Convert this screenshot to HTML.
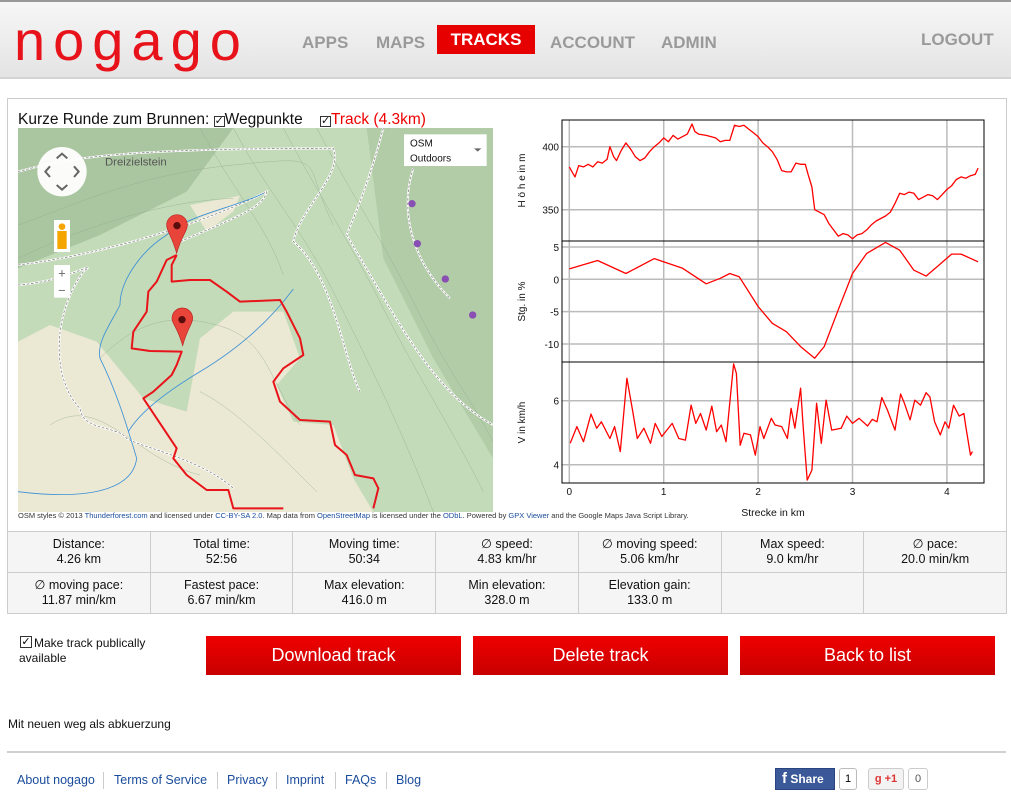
<!DOCTYPE html>
<html><head><meta charset="utf-8">
<style>
*{box-sizing:border-box}
body{margin:0;width:1011px;height:807px;overflow:hidden;background:#fff;font-family:"Liberation Sans",Arial,sans-serif;position:relative}
.abs{position:absolute}
#header{left:0;top:0;width:1011px;height:79px;border-top:2px solid #999;background:linear-gradient(#f6f6f6,#e4e4e4);border-bottom:2px solid #d4d4d4}
.nav{top:31px;font-weight:bold;font-size:17px;color:#9a9a9a}
#main{left:7px;top:98px;width:1000px;height:516px;border:1px solid #ccc}
table.st{border-collapse:collapse;position:absolute;left:7px;top:531px;width:1000px}
table.st td{border:1px solid #ccc;background:#f5f5f5;width:142px;height:41px;text-align:center;font-size:12.5px;line-height:15px;color:#111;padding:0}
.btn{top:636px;width:255px;height:39px;background:linear-gradient(#f00000,#c80000);color:#fff;font-size:18px;text-align:center;line-height:39px}
.fl{top:773px;font-size:12.5px;color:#1a4c9c}
.sep{top:772px;width:1px;height:17px;background:#ccc}
</style></head><body>
<div id="header" class="abs">
  <div class="abs" style="left:14px;top:12px;font-size:56px;color:#e8121a;letter-spacing:8px;line-height:54px">nogago</div>
  <div class="abs nav" style="left:302px">APPS</div>
  <div class="abs nav" style="left:376px">MAPS</div>
  <div class="abs" style="left:437px;top:23px;width:98px;height:29px;background:#e60000;color:#fff;font-weight:bold;font-size:17px;text-align:center;line-height:30px">TRACKS</div>
  <div class="abs nav" style="left:550px">ACCOUNT</div>
  <div class="abs nav" style="left:661px">ADMIN</div>
  <div class="abs nav" style="left:921px;top:28px">LOGOUT</div>
</div>
<div id="main" class="abs"></div>
<div class="abs" style="left:18px;top:111px;font-size:15.5px;color:#111">Kurze Runde zum Brunnen: <span style="display:inline-block;width:11px;height:11px;border:1px solid #333;font-size:11px;line-height:9px">✓</span>Wegpunkte &nbsp;&nbsp;&nbsp;<span style="display:inline-block;width:11px;height:11px;border:1px solid #333;font-size:11px;line-height:9px">✓</span><span style="color:#e00">Track (4.3km)</span></div>

<svg class="abs" style="left:0;top:125px" width="500" height="400" viewBox="0 0 1500 1200">
<defs><clipPath id="mc"><rect x="54" y="9" width="1425" height="1152"/></clipPath></defs>
<g clip-path="url(#mc)">
<rect x="54" y="9" width="1425" height="1152" fill="#c4dbb9"/>
<path d="M54 9H700L560 200 300 330 54 430Z" fill="#aac6a0"/>
<path d="M1100 9H1479V1000L1300 700 1150 400Z" fill="#b1cca7"/>
<path d="M54 650L150 600 290 650 430 820 560 860 600 640 700 560 850 560 900 700 830 780 880 890 1000 900 1060 1060 1120 1161H54Z" fill="#ebe8d3"/>
<path d="M570 240L720 212 700 260 620 320Z" fill="#ebe8d3"/>
<g fill="none" stroke="#8fa88b" stroke-width="1.5" opacity="0.7">
<path d="M54 300C200 250 400 150 700 120S900 100 1000 300"/>
<path d="M54 400C200 330 450 230 700 220"/>
<path d="M300 700C400 600 500 560 650 600S800 750 900 900"/>
<path d="M700 9C800 200 900 300 1000 500S1200 900 1300 1161"/>
<path d="M850 9C950 200 1050 350 1150 550S1350 900 1450 1100"/>
<path d="M950 9C1050 200 1150 350 1250 550S1400 800 1479 950"/>
<path d="M600 9C700 200 800 300 850 450"/>
<path d="M150 900C300 800 400 1000 600 1050"/>
<path d="M600 800C700 850 800 950 950 1100"/>
</g>
<g fill="none" stroke="#fff" stroke-width="6"><path d="M54 140C200 100 350 70 1000 70 1030 150 900 250 880 350 1000 450 1030 700 1080 800 1090 970 1000 980"/>
<path d="M1150 9C1100 200 1050 300 1040 330 1200 600 1300 800 1479 900"/>
<path d="M1240 130C1200 250 1230 400 1350 520 1420 580 1479 600"/>
<path d="M54 420C300 390 600 300 800 200 790 250 700 280 540 350"/>
<path d="M54 480C200 470 300 400 250 440 150 580 160 770 240 850 250 920 350 900 380 940 430 970 600 1000 700 1090 900 1080 1100 1070"/></g>
<g fill="none" stroke="#777" stroke-width="2" stroke-dasharray="8 5"><path d="M54 140C200 100 350 70 1000 70 1030 150 900 250 880 350 1000 450 1030 700 1080 800 1090 970 1000 980"/>
<path d="M1150 9C1100 200 1050 300 1040 330 1200 600 1300 800 1479 900"/>
<path d="M1240 130C1200 250 1230 400 1350 520 1420 580 1479 600"/>
<path d="M54 420C300 390 600 300 800 200 790 250 700 280 540 350"/>
<path d="M54 480C200 470 300 400 250 440 150 580 160 770 240 850 250 920 350 900 380 940 430 970 600 1000 700 1090 900 1080 1100 1070"/></g>
<g fill="none" stroke="#3a8fd8" stroke-width="2.5"><path d="M790 205C700 250 560 270 500 330 420 380 360 470 360 540 330 600 290 650 300 700 350 800 380 900 410 1000 400 1080 300 1130 54 1100"/><path d="M880 492C800 600 700 680 600 740 500 800 420 860 385 920"/></g>
<g fill="#8a4fb3"><circle cx="1236" cy="236" r="11"/><circle cx="1252" cy="356" r="11"/><circle cx="1336" cy="462" r="11"/><circle cx="1418" cy="570" r="11"/></g>
<text x="315" y="122" font-size="34" fill="#555" font-family="Liberation Sans,sans-serif">Dreizielstein</text>
<g fill="none" stroke="#e8141a" stroke-width="6" stroke-linejoin="round">
<path d="M530 390L500 405 470 470 445 500 440 560 400 620 395 670 450 678 545 680 530 720 515 750 460 800 430 820 470 880 530 970 520 1000 560 1050 620 1095 685 1095 700 1150 850 1150"/>
<path d="M530 390L515 420 515 470 570 465 630 465 680 500 720 530 840 525 860 560 900 640 910 690 850 730 820 770 840 830 900 885 990 890 1005 960 1040 990 1065 1050 1120 1060 1135 1090 1120 1150"/></g>
<g><path d="M530 385C515 330 500 320 500 300A31 31 0 0 1 562 300C562 320 545 330 530 385Z" fill="#e8443a" stroke="#b22" stroke-width="2"/><circle cx="531" cy="302" r="11" fill="#5a0d0d"/>
<path d="M548 662C533 607 516 597 516 580A31 31 0 0 1 578 580C578 597 563 607 548 662Z" fill="#e8443a" stroke="#b22" stroke-width="2"/><circle cx="546" cy="584" r="11" fill="#5a0d0d"/></g>
</g>
<circle cx="186" cy="140" r="74" fill="#fff" opacity="0.95"/>
<g fill="none" stroke="#666" stroke-width="6"><path d="M170 100L186 86 202 100M170 180L186 194 202 180M150 124L136 140 150 156M222 124L236 140 222 156"/></g>
<rect x="162" y="285" width="48" height="96" fill="#fff"/><circle cx="186" cy="305" r="10" fill="#f5a500"/><rect x="172" y="318" width="28" height="54" fill="#f5a500"/>
<rect x="162" y="420" width="48" height="98" fill="#fff"/><text x="186" y="458" font-size="38" text-anchor="middle" fill="#666">+</text><text x="186" y="508" font-size="38" text-anchor="middle" fill="#666">−</text>
<rect x="1212" y="28" width="248" height="95" fill="#fff"/><text x="1230" y="64" font-size="30" fill="#111">OSM</text><text x="1230" y="110" font-size="30" fill="#111">Outdoors</text><path d="M1422 70h22l-11 10z" fill="#666"/>
</svg>
<div class="abs" style="left:18px;top:511px;font-size:7.5px;color:#333;white-space:nowrap">OSM styles © 2013 <span style="color:#1a4c9c">Thunderforest.com</span> and licensed under <span style="color:#1a4c9c">CC-BY-SA 2.0</span>. Map data from <span style="color:#1a4c9c">OpenStreetMap</span> is licensed under the <span style="color:#1a4c9c">ODbL</span>. Powered by <span style="color:#1a4c9c">GPX Viewer</span> and the Google Maps Java Script Library.</div>

<svg id="chart" class="abs" style="left:0;top:0" width="1011" height="530"></svg>

<table class="st">
<tr><td>Distance:<br>4.26 km</td><td>Total time:<br>52:56</td><td>Moving time:<br>50:34</td><td>∅ speed:<br>4.83 km/hr</td><td>∅ moving speed:<br>5.06 km/hr</td><td>Max speed:<br>9.0 km/hr</td><td>∅ pace:<br>20.0 min/km</td></tr>
<tr><td>∅ moving pace:<br>11.87 min/km</td><td>Fastest pace:<br>6.67 min/km</td><td>Max elevation:<br>416.0 m</td><td>Min elevation:<br>328.0 m</td><td>Elevation gain:<br>133.0 m</td><td></td><td></td></tr>
</table>
<div class="abs" style="left:20px;top:636px;width:12px;height:12px;border:1px solid #333;font-size:11px;line-height:10px;text-align:center">✓</div>
<div class="abs" style="left:19px;top:636px;width:140px;font-size:12px;line-height:15px;text-indent:15px;color:#111">Make track publically available</div>
<div class="abs btn" style="left:206px">Download track</div>
<div class="abs btn" style="left:473px">Delete track</div>
<div class="abs btn" style="left:740px">Back to list</div>
<div class="abs" style="left:8px;top:717px;font-size:12px;color:#111">Mit neuen weg als abkuerzung</div>
<div class="abs" style="left:7px;top:751px;width:999px;height:2px;background:#d0d0d0"></div>
<div class="abs fl" style="left:17px">About nogago</div>
<div class="abs sep" style="left:103px"></div>
<div class="abs fl" style="left:114px">Terms of Service</div>
<div class="abs sep" style="left:217px"></div>
<div class="abs fl" style="left:227px">Privacy</div>
<div class="abs sep" style="left:276px"></div>
<div class="abs fl" style="left:286px">Imprint</div>
<div class="abs sep" style="left:335px"></div>
<div class="abs fl" style="left:345px">FAQs</div>
<div class="abs sep" style="left:386px"></div>
<div class="abs fl" style="left:396px">Blog</div>
<div class="abs" style="left:775px;top:768px;width:60px;height:22px;background:#3b5998;border:1px solid #29447e;color:#fff;font-size:12px;font-weight:bold;line-height:20px"><span style="margin-left:6px;font-size:15px">f</span> Share</div>
<div class="abs" style="left:839px;top:768px;width:18px;height:22px;border:1px solid #bbb;border-radius:3px;font-size:11px;text-align:center;line-height:20px">1</div>
<div class="abs" style="left:868px;top:768px;width:36px;height:22px;border:1px solid #ccc;border-radius:3px;background:#f3f3f3;color:#d33;font-size:11px;font-weight:bold;line-height:20px;text-align:center">g +1</div>
<div class="abs" style="left:908px;top:768px;width:20px;height:22px;border:1px solid #ccc;border-radius:3px;font-size:11px;color:#555;text-align:center;line-height:20px">0</div>

<script>
const elevKm=[0,0.03,0.06,0.1,0.15,0.2,0.25,0.3,0.35,0.4,0.43,0.47,0.5,0.55,0.6,0.65,0.7,0.75,0.8,0.85,0.9,0.95,1.0,1.05,1.1,1.15,1.2,1.25,1.3,1.33,1.37,1.45,1.5,1.55,1.6,1.65,1.7,1.75,1.8,1.85,1.9,1.95,2.0,2.05,2.1,2.15,2.2,2.25,2.3,2.35,2.4,2.45,2.5,2.53,2.57,2.6,2.65,2.7,2.75,2.8,2.85,2.9,2.95,3.0,3.05,3.1,3.15,3.2,3.25,3.3,3.35,3.4,3.45,3.5,3.55,3.6,3.65,3.7,3.75,3.8,3.85,3.9,3.95,4.0,4.05,4.1,4.15,4.2,4.25,4.3,4.33];
const elevM=[384,380,376,385,384,386,384,388,387,390,400,392,389,397,403,398,392,389,391,396,400,403,407,404,409,406,408,410,418,412,410,409,408,407,404,405,405,417,416,417,414,411,408,403,400,396,390,381,380,380,387,386,386,378,368,350,348,346,339,334,329,331,330,327,330,331,334,338,341,343,345,348,355,363,362,364,363,358,360,362,361,358,362,366,369,374,376,375,377,378,383];
const slopeKm=[0,0.3,0.6,0.9,1.2,1.45,1.6,1.7,1.8,2.0,2.15,2.3,2.45,2.6,2.7,2.85,3.0,3.15,3.35,3.5,3.65,3.78,3.9,4.05,4.15,4.33];
const slopePct=[1.6,2.9,0.9,3.2,1.7,-0.7,0.15,0.9,0.4,-4.2,-6.8,-8.1,-10.4,-12.2,-10.4,-4.7,0.9,4.0,5.7,4.5,1.4,0.5,2.0,3.9,3.9,2.7];
const speedKm=[0.01,0.08,0.15,0.23,0.29,0.34,0.43,0.48,0.54,0.61,0.67,0.72,0.79,0.86,0.91,0.98,1.09,1.16,1.23,1.29,1.34,1.39,1.45,1.51,1.56,1.61,1.66,1.74,1.77,1.81,1.85,1.92,1.97,2.02,2.06,2.14,2.18,2.25,2.31,2.35,2.39,2.45,2.48,2.52,2.57,2.62,2.67,2.72,2.78,2.88,2.94,3.0,3.07,3.16,3.21,3.26,3.31,3.37,3.45,3.51,3.55,3.61,3.66,3.72,3.78,3.82,3.87,3.93,3.98,4.02,4.07,4.13,4.18,4.2,4.25,4.27];
const speedKmh=[4.67,5.19,4.72,5.58,5.14,5.34,4.82,5.19,4.41,6.7,5.71,4.82,5.14,4.67,5.29,4.88,5.29,4.82,4.77,5.86,5.29,5.6,5.08,5.83,5.03,5.24,4.72,7.15,6.85,4.61,4.98,4.93,4.3,5.19,4.82,5.45,5.24,5.19,4.82,5.76,5.14,6.39,5.08,3.52,3.83,5.92,4.67,6.02,5.08,5.14,5.52,5.29,5.45,5.21,5.42,5.34,6.1,5.71,5.08,6.21,5.92,5.4,6.02,5.86,6.25,6.12,5.34,4.93,5.34,5.14,5.86,5.52,5.6,5.19,4.3,4.41];
const xTicks=[0,1,2,3,4];
const elevTicks=[400,350];
const slopeTicks=[5,0,-5,-10];
const speedTicks=[6,4];

const svg=document.getElementById('chart');
const NS='http://www.w3.org/2000/svg';
const L=562,R=984;
const xS=k=>569.3+k*94.4;
const panels=[
 {top:120,bot:241,y:v=>146.7+(400-v)*1.26,ticks:elevTicks,xs:elevKm,ys:elevM,title:'H ö h e  in  m',name:'elevation'},
 {top:241,bot:362,y:v=>279.3-v*6.47,ticks:slopeTicks,xs:slopeKm,ys:slopePct,title:'Stg.  in  %',name:'slope'},
 {top:362,bot:483,y:v=>400.7+(6-v)*32,ticks:speedTicks,xs:speedKm,ys:speedKmh,title:'V  in  km/h',name:'speed'}];
function mk(t,a){const e=document.createElementNS(NS,t);for(const k in a)e.setAttribute(k,a[k]);svg.appendChild(e);return e;}
panels.forEach(p=>{
 xTicks.forEach(k=>{const l=mk('line',{x1:xS(k),x2:xS(k),y1:p.top,y2:p.bot,stroke:'#bbb','stroke-width':1.5});
  
  });
 p.ticks.forEach(v=>{const l=mk('line',{x1:L,x2:R,y1:p.y(v),y2:p.y(v),stroke:'#bbb','stroke-width':1.5});
  
  
  const t=mk('text',{x:559,y:p.y(v)+4,'text-anchor':'end','font-size':10,fill:'#111','font-family':'Liberation Sans,sans-serif'});t.textContent=v;
  
  });
 const cy=(p.top+p.bot)/2;
 const tt=mk('text',{x:525,y:cy,transform:`rotate(-90 525 ${cy})`,'text-anchor':'middle','font-size':10,fill:'#111','font-family':'Liberation Sans,sans-serif'});tt.textContent=p.title;
 
 
 const d=p.xs.map((k,i)=>(i?'L':'M')+xS(k).toFixed(1)+' '+p.y(p.ys[i]).toFixed(1)).join('');
 const path=mk('path',{d:d,fill:'none',stroke:'#f00','stroke-width':1.3,'stroke-linejoin':'round'});
 
 
 const r=mk('rect',{x:L,y:p.top,width:R-L,height:p.bot-p.top,fill:'none',stroke:'#000','stroke-width':1});
 
 
});
xTicks.forEach(k=>{const t=mk('text',{x:xS(k),y:495,'text-anchor':'middle','font-size':10,fill:'#111','font-family':'Liberation Sans,sans-serif'});t.textContent=k;
 
 });
const xt=mk('text',{x:773,y:516,'text-anchor':'middle','font-size':10.5,fill:'#111','font-family':'Liberation Sans,sans-serif'});xt.textContent='Strecke in km';


</script>
</body></html>
